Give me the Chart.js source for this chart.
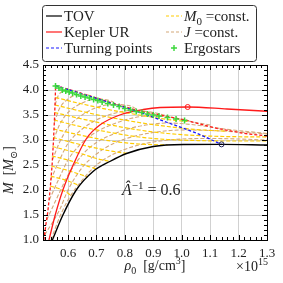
<!DOCTYPE html>
<html>
<head>
<meta charset="utf-8">
<script src="https://cdn.jsdelivr.net/npm/chart.js@4.4.0/dist/chart.umd.min.js"></script>
<style>
  html, body { margin: 0; padding: 0; background: #fff; }
  #wrap { width: 283px; height: 283px; }
</style>
</head>
<body>
<div id="wrap"><canvas id="chart" width="283" height="283"></canvas></div>
<script>
// ---- axes ----
const xTicks = [0.6, 0.7, 0.8, 0.9, 1.0, 1.1, 1.2, 1.3];
const yTicks = [1.0, 1.5, 2.0, 2.5, 3.0, 3.5, 4.0, 4.5];

// ---- TOV (non rotating) ----
const tovRho = [0.545, 0.582, 0.629, 0.688, 0.747, 0.806, 0.9, 1.006, 1.14, 1.3];
const tovM   = [1.0, 1.5, 2.0, 2.37, 2.57, 2.73, 2.87, 2.91, 2.913, 2.9];
const tovMaxRho = [1.14];
const tovMaxM   = [2.913];

// ---- Kepler UR ----
const kepRho = [0.533, 0.555, 0.582, 0.618, 0.665, 0.712, 0.782, 0.865, 0.924, 1.021, 1.159, 1.3];
const kepM   = [1.0, 1.5, 2.0, 2.5, 3.03, 3.3, 3.5, 3.61, 3.65, 3.66, 3.62, 3.575];
const kepMaxRho = [1.021];
const kepMaxM   = [3.66];

// boundary of the solution space (red dashed)
const limRho = [0.515, 0.522, 0.529, 0.537, 0.544, 0.549, 0.553, 0.5565, 0.65, 0.75, 0.85, 0.95, 1.012, 1.07, 1.124, 1.218, 1.3];
const limM   = [1.0, 1.3, 1.57, 2.0, 2.5, 3.0, 3.5, 4.09, 3.93, 3.75, 3.58, 3.47, 3.4, 3.31, 3.233, 3.133, 3.08];

// ---- turning points ----
const turnRho = [0.5565, 0.65, 0.75, 0.853, 0.95, 1.05, 1.14];
const turnM   = [4.087, 3.92, 3.74, 3.55, 3.35, 3.14, 2.913];

// ---- ergostars ----
const ergoRho = [0.556, 0.568, 0.58, 0.592, 0.604, 0.616, 0.63, 0.645, 0.66, 0.675, 0.69, 0.705, 0.72,
                 0.74, 0.76, 0.78, 0.8, 0.82, 0.84, 0.86, 0.88, 0.9, 0.92, 0.95, 0.98, 1.01];
const ergoM   = [4.08, 4.04, 4.0, 3.98, 3.96, 3.94, 3.91, 3.88, 3.86, 3.84, 3.81, 3.79, 3.76,
                 3.73, 3.7, 3.67, 3.63, 3.6, 3.57, 3.55, 3.52, 3.5, 3.48, 3.45, 3.42, 3.39];

// ---- M0 = const sequences ----
const m0Rho = [
  [0.5555, 0.65, 0.75, 0.85, 0.95, 1.02],
  [0.554, 0.65, 0.75, 0.85, 0.95, 1.05, 1.16],
  [0.552, 0.65, 0.75, 0.85, 0.95, 1.05, 1.15, 1.3],
  [0.551, 0.65, 0.75, 0.85, 0.95, 1.05, 1.15, 1.3],
  [0.549, 0.65, 0.75, 0.85, 0.95],
  [0.547, 0.65, 0.75, 0.81],
  [0.545, 0.6, 0.65, 0.7, 0.75],
  [0.543, 0.6, 0.65, 0.7],
  [0.541, 0.6, 0.67],
  [0.539, 0.6, 0.64],
  [0.537, 0.58, 0.615]
];
const m0M = [
  [3.85, 3.72, 3.6, 3.5, 3.41, 3.37],
  [3.7, 3.57, 3.45, 3.35, 3.27, 3.21, 3.175],
  [3.55, 3.42, 3.3, 3.2, 3.13, 3.09, 3.07, 3.06],
  [3.4, 3.26, 3.15, 3.06, 3.01, 2.99, 2.98, 2.98],
  [3.22, 3.09, 2.98, 2.92, 2.9],
  [3.05, 2.9, 2.78, 2.73],
  [2.87, 2.79, 2.72, 2.63, 2.57],
  [2.68, 2.6, 2.51, 2.42],
  [2.48, 2.39, 2.26],
  [2.28, 2.18, 2.09],
  [2.08, 2.0, 1.88]
];

// ---- J = const sequences ----
const jRho = [
  [0.5545, 0.565, 0.58, 0.6, 0.61],
  [0.552, 0.57, 0.6, 0.63, 0.66, 0.68],
  [0.549, 0.57, 0.6, 0.65, 0.7, 0.74, 0.76],
  [0.545, 0.57, 0.6, 0.65, 0.7, 0.76, 0.82, 0.84],
  [0.539, 0.57, 0.6, 0.65, 0.7, 0.76, 0.82, 0.9, 0.95],
  [0.534, 0.57, 0.6, 0.65, 0.7, 0.76, 0.82, 0.88, 0.95, 1.05, 1.1],
  [0.525, 0.57, 0.6, 0.65, 0.7, 0.76, 0.83, 0.9, 0.95, 1.05, 1.15, 1.3],
  [0.518, 0.57, 0.6, 0.65, 0.7, 0.76, 0.83, 0.9, 1.0, 1.1, 1.2, 1.3],
  [0.54, 0.57, 0.6, 0.65, 0.7, 0.76, 0.83, 0.9, 1.0, 1.1, 1.2, 1.3]
];
const jM = [
  [3.7, 3.88, 3.97, 4.0, 3.99],
  [3.35, 3.63, 3.82, 3.9, 3.91, 3.88],
  [3.0, 3.3, 3.55, 3.74, 3.82, 3.8, 3.76],
  [2.6, 2.95, 3.25, 3.5, 3.65, 3.71, 3.68, 3.62],
  [2.2, 2.6, 2.93, 3.22, 3.4, 3.53, 3.59, 3.55, 3.48],
  [1.8, 2.25, 2.6, 2.95, 3.16, 3.32, 3.43, 3.48, 3.46, 3.35, 3.3],
  [1.4, 1.95, 2.3, 2.7, 2.95, 3.12, 3.25, 3.32, 3.34, 3.3, 3.22, 3.13],
  [1.1, 1.6, 2.0, 2.45, 2.72, 2.93, 3.07, 3.15, 3.2, 3.19, 3.16, 3.12],
  [1.0, 1.45, 1.8, 2.2, 2.5, 2.72, 2.87, 2.96, 3.02, 3.03, 3.02, 3.0]
];

const SERIF = "'Liberation Serif', 'DejaVu Serif', serif";

const RED = "#ff1a1a";
const BLUE = "#1a1aff";
const GOLD = "#ffcc00";
const TAN = "#d4a878";
const GREEN = "#3ad83a";

function pts(xs, ys) {
    return xs.map((x, i) => ({ x: x, y: ys[i] }));
}

function line(xs, ys, color, dash, width) {
    return {
        data: pts(xs, ys),
        showLine: true,
        borderColor: color,
        borderWidth: width || 1.2,
        borderDash: dash || [],
        pointRadius: 0,
        cubicInterpolationMode: "monotone",
        fill: false
    };
}

// draws text made of parts: [text, style]; style "i" italic, "sub", "sup"
function richText(ctx, parts, x, y, size, align) {
    const small = Math.round(size * 0.7);
    const fontFor = (s) => {
        const it = s === "i" ? "italic " : "";
        const sz = (s === "sub" || s === "sup") ? small : size;
        return it + sz + "px " + SERIF;
    };
    let total = 0;
    parts.forEach(p => {
        ctx.font = fontFor(p[1]);
        total += ctx.measureText(p[0]).width;
    });
    let cx = x;
    if (align === "center") cx = x - total / 2;
    if (align === "right") cx = x - total;
    ctx.textAlign = "left";
    ctx.textBaseline = "alphabetic";
    parts.forEach(p => {
        ctx.font = fontFor(p[1]);
        let dy = 0;
        if (p[1] === "sub") dy = size * 0.25;
        if (p[1] === "sup") dy = -size * 0.4;
        ctx.fillText(p[0], cx, y + dy);
        cx += ctx.measureText(p[0]).width;
    });
}

/* =========================
   frame, inward ticks, labels, legend
========================= */
const decor = {
    id: "decor",
    afterDraw(chart) {
        const ctx = chart.ctx;
        const a = chart.chartArea;
        const xs = chart.scales.x;
        const ys = chart.scales.y;

        ctx.save();
        ctx.strokeStyle = "#000";
        ctx.lineWidth = 1;
        ctx.setLineDash([]);

        // minor + major ticks, all four sides
        ctx.beginPath();
        for (let v = 0.52; v <= 1.3001; v += 0.02) {
            const px = Math.round(xs.getPixelForValue(v)) + 0.5;
            const major = Math.abs(v * 10 - Math.round(v * 10)) < 1e-6;
            const len = major ? 5 : 3;
            ctx.moveTo(px, a.bottom); ctx.lineTo(px, a.bottom - len);
            ctx.moveTo(px, a.top); ctx.lineTo(px, a.top + len);
        }
        for (let v = 1.0; v <= 4.5001; v += 0.1) {
            const py = Math.round(ys.getPixelForValue(v)) + 0.5;
            const major = Math.abs(v * 2 - Math.round(v * 2)) < 1e-6;
            const len = major ? 5 : 3;
            ctx.moveTo(a.left, py); ctx.lineTo(a.left + len, py);
            ctx.moveTo(a.right, py); ctx.lineTo(a.right - len, py);
        }
        ctx.stroke();

        ctx.strokeRect(a.left + 0.5, a.top + 0.5, a.right - a.left, a.bottom - a.top);

        ctx.fillStyle = "#222";

        // axis titles
        richText(ctx, [["\u03c1", "i"], ["0", "sub"], ["  [g/cm", ""], ["3", "sup"], ["]", ""]],
            (a.left + a.right) / 2, 270, 14, "center");
        richText(ctx, [["\u00d710", ""], ["15", "sup"]], a.right + 1, 271, 14, "right");

        ctx.save();
        ctx.translate(13, 170);
        ctx.rotate(-Math.PI / 2);
        richText(ctx, [["M", "i"], ["  [", ""], ["M", "i"], ["\u2299", "sub"], ["]", ""]], 0, 0, 14, "center");
        ctx.restore();

        // annotation
        richText(ctx, [["\u00c2", "i"], ["\u22121", "sup"], [" = 0.6", ""]],
            xs.getPixelForValue(0.79), ys.getPixelForValue(1.9), 16, "left");

        // legend box
        const bx = 42.5, by = 5.5, bw = 214, bh = 56;
        ctx.fillStyle = "#fff";
        ctx.strokeStyle = "#333";
        ctx.lineWidth = 1;
        ctx.beginPath();
        ctx.roundRect(bx, by, bw, bh, 3);
        ctx.fill();
        ctx.stroke();

        const rows = [16, 32, 48];
        const sample = (x0, y, color, dash) => {
            ctx.strokeStyle = color;
            ctx.lineWidth = 1.2;
            ctx.setLineDash(dash);
            ctx.beginPath();
            ctx.moveTo(x0, y);
            ctx.lineTo(x0 + 16, y);
            ctx.stroke();
            ctx.setLineDash([]);
        };
        sample(46, rows[0], "#000", []);
        sample(46, rows[1], RED, []);
        sample(46, rows[2], BLUE, [3, 2]);
        sample(166, rows[0], GOLD, [3, 2]);
        sample(166, rows[1], TAN, [3, 2]);

        ctx.strokeStyle = GREEN;
        ctx.lineWidth = 1.4;
        ctx.beginPath();
        ctx.moveTo(171, rows[2]); ctx.lineTo(177, rows[2]);
        ctx.moveTo(174, rows[2] - 3); ctx.lineTo(174, rows[2] + 3);
        ctx.stroke();

        ctx.fillStyle = "#222";
        const ty = 5;
        richText(ctx, [["TOV", ""]], 64, rows[0] + ty, 15, "left");
        richText(ctx, [["Kepler UR", ""]], 64, rows[1] + ty, 15, "left");
        richText(ctx, [["Turning points", ""]], 64, rows[2] + ty, 15, "left");
        richText(ctx, [["M", "i"], ["0", "sub"], [" =const.", ""]], 184, rows[0] + ty, 15, "left");
        richText(ctx, [["J", "i"], [" =const.", ""]], 184, rows[1] + ty, 15, "left");
        richText(ctx, [["Ergostars", ""]], 184, rows[2] + ty, 15, "left");

        ctx.restore();
    }
};

/* =========================
   datasets
========================= */
const datasets = [];

datasets.push({
    data: pts(ergoRho, ergoM),
    showLine: false,
    pointStyle: "cross",
    pointRadius: 3,
    borderColor: GREEN,
    borderWidth: 1.5
});
datasets.push({
    data: pts(kepMaxRho, kepMaxM),
    showLine: false,
    pointRadius: 2.5,
    borderColor: RED,
    backgroundColor: "rgba(0,0,0,0)",
    borderWidth: 1
});
datasets.push({
    data: pts(tovMaxRho, tovMaxM),
    showLine: false,
    pointRadius: 2.5,
    borderColor: "#222255",
    backgroundColor: "rgba(0,0,0,0)",
    borderWidth: 1
});
datasets.push(line(tovRho, tovM, "#000", [], 1.4));
datasets.push(line(turnRho, turnM, BLUE, [3, 2], 1.3));
datasets.push(line(kepRho, kepM, RED, [], 1.3));
datasets.push(Object.assign(line(limRho, limM, RED, [3, 2], 1.3), { cubicInterpolationMode: "default", tension: 0 }));

m0Rho.forEach((r, i) => datasets.push(line(r, m0M[i], GOLD, [4, 2], 1.2)));
jRho.forEach((r, i) => datasets.push(line(r, jM[i], TAN, [4, 2], 1.1)));

const chart = new Chart(document.getElementById("chart"), {
    type: "scatter",
    data: { datasets: datasets },
    options: {
        responsive: false,
        animation: false,
        events: [],
        layout: { padding: { top: 65, right: 16, left: 0, bottom: 0 } },
        plugins: {
            legend: { display: false },
            tooltip: { enabled: false }
        },
        scales: {
            x: {
                type: "linear",
                min: 0.512,
                max: 1.3,
                afterBuildTicks: (s) => { s.ticks = xTicks.map(v => ({ value: v })); },
                afterFit: (s) => { s.height = 43; },
                grid: { color: "rgba(0,0,0,0.18)", drawTicks: false },
                border: { display: false },
                ticks: {
                    padding: 6,
                    color: "#222",
                    font: { family: SERIF, size: 13 },
                    callback: (v) => v.toFixed(1)
                }
            },
            y: {
                type: "linear",
                min: 1.0,
                max: 4.5,
                afterBuildTicks: (s) => { s.ticks = yTicks.map(v => ({ value: v })); },
                afterFit: (s) => { s.width = 43; },
                grid: { color: "rgba(0,0,0,0.18)", drawTicks: false },
                border: { display: false },
                ticks: {
                    padding: 4,
                    color: "#222",
                    font: { family: SERIF, size: 13 },
                    callback: (v) => v.toFixed(1)
                }
            }
        }
    },
    plugins: [decor]
});
</script>
</body>
</html>
